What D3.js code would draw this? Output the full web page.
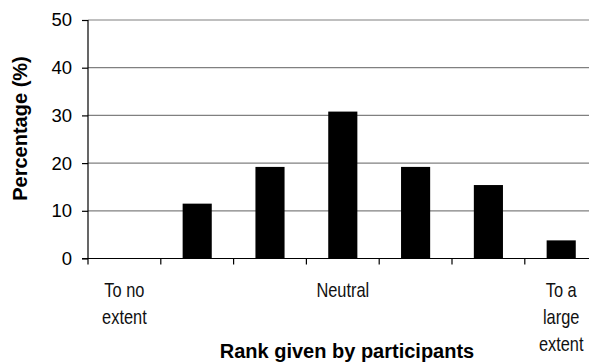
<!DOCTYPE html>
<html>
<head>
<meta charset="utf-8">
<script src="https://cdn.jsdelivr.net/npm/d3@7"></script>
<style>
  html, body { margin: 0; padding: 0; background: #fff; }
  svg { display: block; }
</style>
</head>
<body>
<svg id="chart" width="589" height="362"></svg>
<script>
// Ranks on a 7-point scale; only the two ends and the midpoint carry a label
const ranks = [1, 2, 3, 4, 5, 6, 7];
const rankLabels = [["To no", "extent"], [], [], ["Neutral"], [], [], ["To a", "large", "extent"]];
const percentages = [0, 11.5, 19.2, 30.8, 19.2, 15.4, 3.8];
const yTicks = [0, 10, 20, 30, 40, 50];
const xTitle = "Rank given by participants";
const yTitle = "Percentage (%)";

const svg = d3.select("#chart");
const plotLeft = 88, plotRight = 597.6, plotTop = 20, plotBottom = 258.5;

const x = d3.scaleBand()
  .domain(ranks)
  .range([plotLeft, plotRight])
  .paddingInner(0.6)
  .paddingOuter(0.3);

const y = d3.scaleLinear().domain([0, 50]).range([plotBottom, plotTop]);

const sans = "'Liberation Sans', Arial, Helvetica, sans-serif";

// Horizontal gridlines
svg.append("g")
  .selectAll("line")
  .data(yTicks.filter(d => d > 0))
  .join("line")
  .attr("x1", plotLeft).attr("x2", plotRight)
  .attr("y1", d => y(d)).attr("y2", d => y(d))
  .attr("stroke", "#808080")
  .attr("stroke-width", 1.2);

// Bars
svg.append("g")
  .selectAll("rect")
  .data(ranks)
  .join("rect")
  .attr("x", d => x(d))
  .attr("width", x.bandwidth())
  .attr("y", (d, i) => y(percentages[i]))
  .attr("height", (d, i) => y(0) - y(percentages[i]))
  .attr("fill", "#000");

// Y axis
const yAxis = svg.append("g")
  .attr("transform", `translate(${plotLeft},0)`)
  .call(d3.axisLeft(y).tickValues(yTicks).tickSize(6).tickPadding(10).tickFormat(d3.format("d")));
yAxis.select(".domain").attr("stroke", "#000").attr("stroke-width", 1.2).attr("d", `M0,${plotTop}V${plotBottom}`);
yAxis.selectAll(".tick line").attr("stroke", "#000").attr("stroke-width", 1.2);
yAxis.selectAll(".tick text")
  .attr("fill", "#000")
  .style("font-family", sans)
  .style("font-size", "18.5px");

// X axis: baseline with ticks between categories
const boundaries = d3.range(ranks.length + 1).map(i => plotLeft + i * x.step());
const xAxis = svg.append("g");
xAxis.append("line")
  .attr("x1", plotLeft - 6).attr("x2", plotRight)
  .attr("y1", plotBottom).attr("y2", plotBottom)
  .attr("stroke", "#000").attr("stroke-width", 1.2);
xAxis.selectAll(".xtick")
  .data(boundaries)
  .join("line")
  .attr("class", "xtick")
  .attr("x1", d => d).attr("x2", d => d)
  .attr("y1", plotBottom).attr("y2", plotBottom + 6)
  .attr("stroke", "#000").attr("stroke-width", 1.2);

// Category labels under the bands, set in a condensed width
const labelGroups = xAxis.selectAll(".xlabel")
  .data(ranks)
  .join("text")
  .attr("class", "xlabel")
  .attr("transform", d => `translate(${x(d) + x.bandwidth() / 2},0) scale(0.8,1)`)
  .attr("text-anchor", "middle")
  .attr("fill", "#111")
  .style("font-family", sans)
  .style("font-size", "20.5px");
labelGroups.each(function(d, i) {
  const t = d3.select(this);
  rankLabels[i].forEach((line, j) => {
    t.append("tspan")
      .attr("x", 0)
      .attr("y", 297.5 + j * 26.8)
      .text(line);
  });
});

// Axis titles
svg.append("text")
  .attr("x", (plotLeft + 610) / 2 - 2)
  .attr("y", 358)
  .attr("text-anchor", "middle")
  .attr("fill", "#000")
  .style("font-family", sans)
  .style("font-weight", "bold")
  .style("font-size", "20px")
  .text(xTitle);

svg.append("text")
  .attr("transform", `translate(26.5,${(51 + 206) / 2}) rotate(-90)`)
  .attr("text-anchor", "middle")
  .attr("fill", "#000")
  .style("font-family", sans)
  .style("font-weight", "bold")
  .style("font-size", "20px")
  .text(yTitle);
</script>
</body>
</html>
